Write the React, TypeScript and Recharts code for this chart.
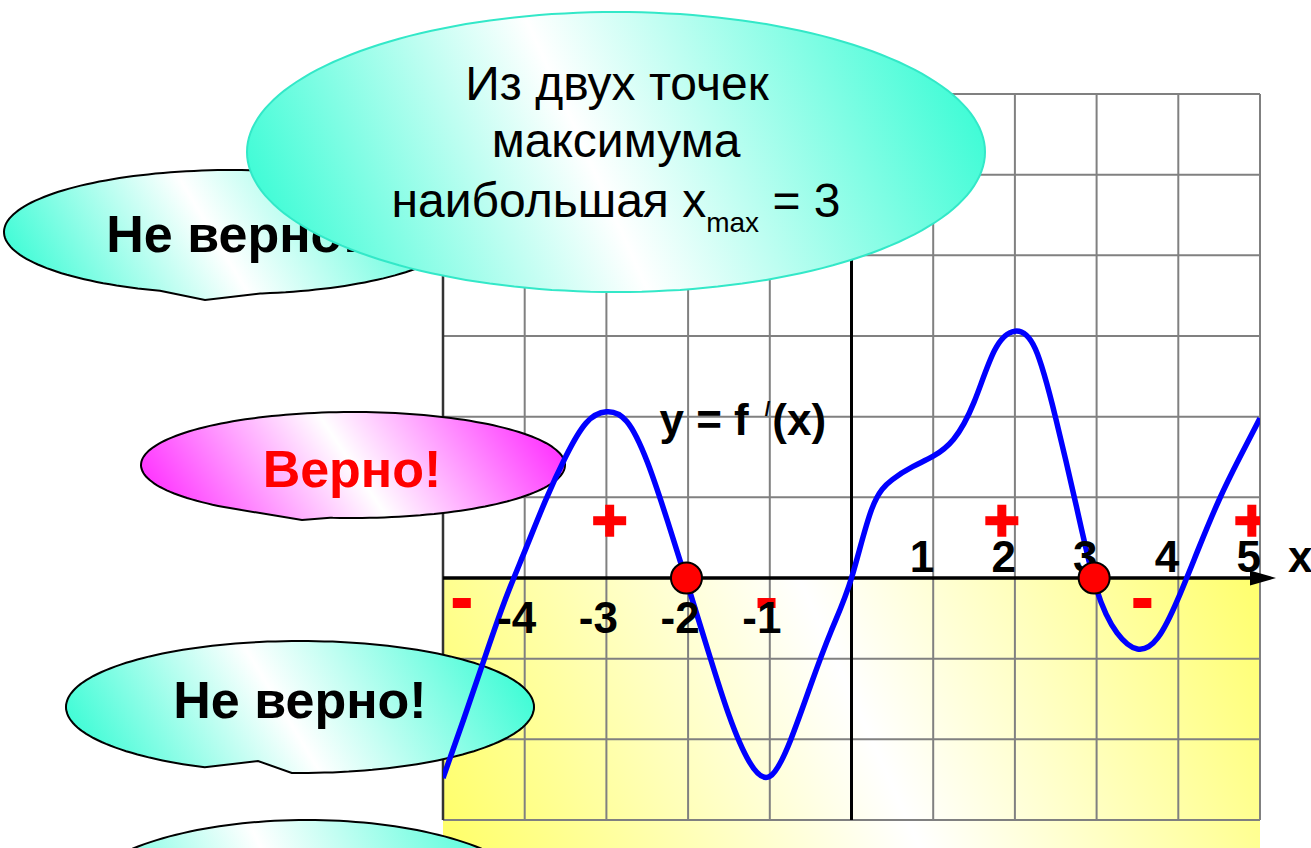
import React from 'react';
import {
  ComposedChart,
  Line,
  Scatter,
  XAxis,
  YAxis,
  CartesianGrid,
  ReferenceArea,
  ReferenceLine,
  ReferenceDot
} from 'recharts';

// --- chart values ---
const xTicks = [-5, -4, -3, -2, -1, 0, 1, 2, 3, 4, 5];
const yTicks = [-3, -2, -1, 0, 1, 2, 3, 4, 5, 6];

const curveX = [
  -5, -4.75, -4.5, -4.25, -4, -3.75, -3.5, -3.25, -3, -2.75, -2.5, -2.25, -2, -1.75, -1.5, -1.25, -1,
  -0.75, -0.5, -0.25, 0, 0.25, 0.5, 0.75, 1, 1.25, 1.5, 1.75, 2, 2.25, 2.5, 2.75, 3, 3.25, 3.5, 3.75,
  4, 4.25, 4.5, 4.75, 5
];
const curveY = [
  -2.48, -1.76, -1.02, -0.3, 0.33, 0.95, 1.5, 1.92, 2.06, 1.94, 1.44, 0.7, -0.1, -0.92, -1.7, -2.28, -2.46,
  -2.02, -1.33, -0.66, 0, 0.86, 1.22, 1.38, 1.51, 1.72, 2.18, 2.82, 3.06, 2.84, 1.98, 0.9, -0.14, -0.68, -0.88, -0.74,
  -0.25, 0.37, 0.97, 1.49, 1.98
];

const zeroPoints = [-2.02, 2.97];

const negTickLabels = ['-4', '-3', '-2', '-1'];
const negTickValues = [-4, -3, -2, -1];
const posTickLabels = ['1', '2', '3', '4', '5'];
const posTickValues = [1, 2, 3, 4, 5];

const plusX = [-2.96, 1.84, 4.9];
const plusY = 0.71;
const minusX = [-4.77, -1.04, 3.56];
const minusY = -0.31;

const curveData = curveX.map((x, i) => ({ x, y: curveY[i] }));
const negLabelData = negTickValues.map((x, i) => ({ x, y: 0, label: negTickLabels[i] }));
const posLabelData = posTickValues.map((x, i) => ({ x, y: 0, label: posTickLabels[i] }));
const plusData = plusX.map((x) => ({ x, y: plusY }));
const minusData = minusX.map((x) => ({ x, y: minusY }));

// --- layout ---
const W = 1311;
const H = 848;
const MARGIN = { top: 94, right: 51, bottom: 28, left: 443 };
const FONT = "'Liberation Sans', Arial, sans-serif";
const layer: React.CSSProperties = { position: 'absolute', left: 0, top: 0 };

const bubblePath = (cx: number, cy: number, rx: number, ry: number, from: number, to: number, extra: number[][]) => {
  const pts: number[][] = [];
  for (let a = from; a < to; a += 2) {
    const r = (a * Math.PI) / 180;
    pts.push([cx + rx * Math.cos(r), cy + ry * Math.sin(r)]);
  }
  const e = (to * Math.PI) / 180;
  pts.push([cx + rx * Math.cos(e), cy + ry * Math.sin(e)]);
  extra.forEach((p) => pts.push(p));
  return 'M' + pts.map((p) => p[0].toFixed(1) + ',' + p[1].toFixed(1)).join(' L') + ' Z';
};

const PlusShape = (props: any) => {
  const { cx, cy } = props;
  return (
    <g fill="#ff0000">
      <rect x={cx - 16.5} y={cy - 4.5} width={33} height={9} />
      <rect x={cx - 4.5} y={cy - 16} width={9} height={32} />
    </g>
  );
};

const MinusShape = (props: any) => {
  const { cx, cy } = props;
  return <rect x={cx - 9} y={cy - 5} width={18} height={10} fill="#ff0000" />;
};

const NegLabel = (props: any) => {
  const { cx, cy, payload } = props;
  return (
    <text x={cx - 8} y={cy + 55} textAnchor="middle" fontFamily={FONT} fontWeight="bold" fontSize={44} fill="#000">
      {payload.label}
    </text>
  );
};

const PosLabel = (props: any) => {
  const { cx, cy, payload } = props;
  return (
    <text x={cx + 1} y={cy - 6} textAnchor="end" fontFamily={FONT} fontWeight="bold" fontSize={44} fill="#000">
      {payload.label}
    </text>
  );
};

const ArrowShape = (props: any) => {
  const { cx, cy } = props;
  return (
    <g>
      <polygon points={`${cx - 10},${cy - 7.5} ${cx + 16},${cy} ${cx - 10},${cy + 7.5}`} fill="#000" />
      <text x={cx + 28} y={cy - 6} fontFamily={FONT} fontWeight="bold" fontSize={44} fill="#000">
        x
      </text>
    </g>
  );
};

const FormulaShape = (props: any) => {
  const { cx, cy } = props;
  return (
    <text x={cx} y={cy} fontFamily={FONT} fontWeight="bold" fontSize={44} fill="#000">
      y = f
      <tspan dx={16} dy={-19} fontSize={20}>/</tspan>
      <tspan dx={2} dy={19}>(x)</tspan>
    </text>
  );
};

const ZeroDot = (props: any) => {
  const { cx, cy } = props;
  return <circle cx={cx} cy={cy} r={15.5} fill="#ff0000" stroke="#000" strokeWidth={2} />;
};

const Bubbles = () => (
  <svg width={W} height={H} style={{ ...layer, pointerEvents: 'none' }}>
    <defs>
      <linearGradient id="cyanBub" x1="0" y1="0.585" x2="1" y2="0.415">
        <stop offset="0" stopColor="#3ffcd6" />
        <stop offset="0.46" stopColor="#ffffff" />
        <stop offset="1" stopColor="#3ffcd6" />
      </linearGradient>
      <linearGradient id="pinkBub" x1="0" y1="0.585" x2="1" y2="0.415">
        <stop offset="0" stopColor="#ff33ff" />
        <stop offset="0.5" stopColor="#ffffff" />
        <stop offset="1" stopColor="#ff33ff" />
      </linearGradient>
    </defs>
    <path d={bubblePath(232, 232, 228, 62, 108.4, 442.9, [[205, 300]])} fill="url(#cyanBub)" stroke="#000" strokeWidth={2} />
    <text x={233} y={252} textAnchor="middle" fontFamily={FONT} fontWeight="bold" fontSize={52} fill="#000">
      Не верно!
    </text>
    <path d={bubblePath(616, 152, 369, 140, 0, 360, [])} fill="url(#cyanBub)" stroke="#33e8c8" strokeWidth={2} />
    <g fontFamily={FONT} fontSize={48} fill="#000" textAnchor="middle">
      <text x={617} y={100}>Из двух точек</text>
      <text x={616} y={157}>максимума</text>
      <text x={616} y={217}>
        наибольшая x
        <tspan fontSize={28} dy={15}>max</tspan>
        <tspan dy={-15}> = 3</tspan>
      </text>
    </g>
    <path d={bubblePath(353, 465, 212, 53, 125.5, 456.2, [[302, 520]])} fill="url(#pinkBub)" stroke="#000" strokeWidth={2} />
    <text x={352} y={487} textAnchor="middle" fontFamily={FONT} fontWeight="bold" fontSize={52} fill="#ff0000">
      Верно!
    </text>
    <path d={bubblePath(300, 707, 234, 66, 114, 452, [[258, 761]])} fill="url(#cyanBub)" stroke="#000" strokeWidth={2} />
    <text x={300} y={718} textAnchor="middle" fontFamily={FONT} fontWeight="bold" fontSize={52} fill="#000">
      Не верно!
    </text>
    <path d={bubblePath(307, 906, 234, 86, 0, 360, [])} fill="url(#cyanBub)" stroke="#000" strokeWidth={2} />
  </svg>
);

export default function App() {
  return (
    <div style={{ position: 'absolute', left: 0, top: 0, width: W, height: H, background: '#fff', overflow: 'hidden' }}>
      {/* yellow shading under the x axis */}
      <div style={layer}>
        <ComposedChart width={W} height={H} margin={MARGIN} data={curveData}>
          <defs>
            <linearGradient id="yellowGrad" gradientUnits="userSpaceOnUse" x1="398" y1="760" x2="1202" y2="400">
              <stop offset="0" stopColor="#ffff66" />
              <stop offset="0.5" stopColor="#ffffff" />
              <stop offset="1" stopColor="#ffff66" />
            </linearGradient>
          </defs>
          <XAxis type="number" dataKey="x" domain={[-5, 5]} ticks={xTicks} hide allowDataOverflow />
          <YAxis type="number" dataKey="y" domain={[-3, 6]} ticks={yTicks} hide allowDataOverflow />
          <ReferenceArea x1={-5} x2={5} y1={-3.35} y2={0} fill="url(#yellowGrad)" fillOpacity={1} stroke="none" ifOverflow="visible" />
        </ComposedChart>
      </div>
      {/* grid and axes */}
      <div style={layer}>
        <ComposedChart width={W} height={H} margin={MARGIN} data={curveData}>
          <XAxis type="number" dataKey="x" domain={[-5, 5]} ticks={xTicks} hide allowDataOverflow />
          <YAxis type="number" dataKey="y" domain={[-3, 6]} ticks={yTicks} hide allowDataOverflow />
          <CartesianGrid stroke="#808080" strokeWidth={2} />
          <ReferenceLine x={-5} stroke="#333" strokeWidth={2.5} />
          <ReferenceLine x={0} stroke="#000" strokeWidth={3} />
          <ReferenceLine y={0} stroke="#000" strokeWidth={3.5} />
        </ComposedChart>
      </div>
      <Bubbles />
      {/* curve and labels */}
      <div style={layer}>
        <ComposedChart width={W} height={H} margin={MARGIN}>
          <XAxis type="number" dataKey="x" domain={[-5, 5]} ticks={xTicks} hide allowDataOverflow />
          <YAxis type="number" dataKey="y" domain={[-3, 6]} ticks={yTicks} hide allowDataOverflow />
          <Line
            data={curveData}
            type="natural"
            dataKey="y"
            stroke="#0000ff"
            strokeWidth={5.5}
            dot={false}
            activeDot={false}
            isAnimationActive={false}
          />
          <Scatter data={plusData} dataKey="y" shape={PlusShape} isAnimationActive={false} />
          <Scatter data={minusData} dataKey="y" shape={MinusShape} isAnimationActive={false} />
          <Scatter data={negLabelData} dataKey="y" shape={NegLabel} isAnimationActive={false} />
          <Scatter data={posLabelData} dataKey="y" shape={PosLabel} isAnimationActive={false} />
          {zeroPoints.map((z) => (
            <ReferenceDot key={z} x={z} y={0} shape={ZeroDot} ifOverflow="visible" />
          ))}
          <ReferenceDot x={5} y={0} shape={ArrowShape} ifOverflow="visible" />
          <ReferenceDot x={-2.35} y={1.77} shape={FormulaShape} ifOverflow="visible" />
        </ComposedChart>
      </div>
    </div>
  );
}
